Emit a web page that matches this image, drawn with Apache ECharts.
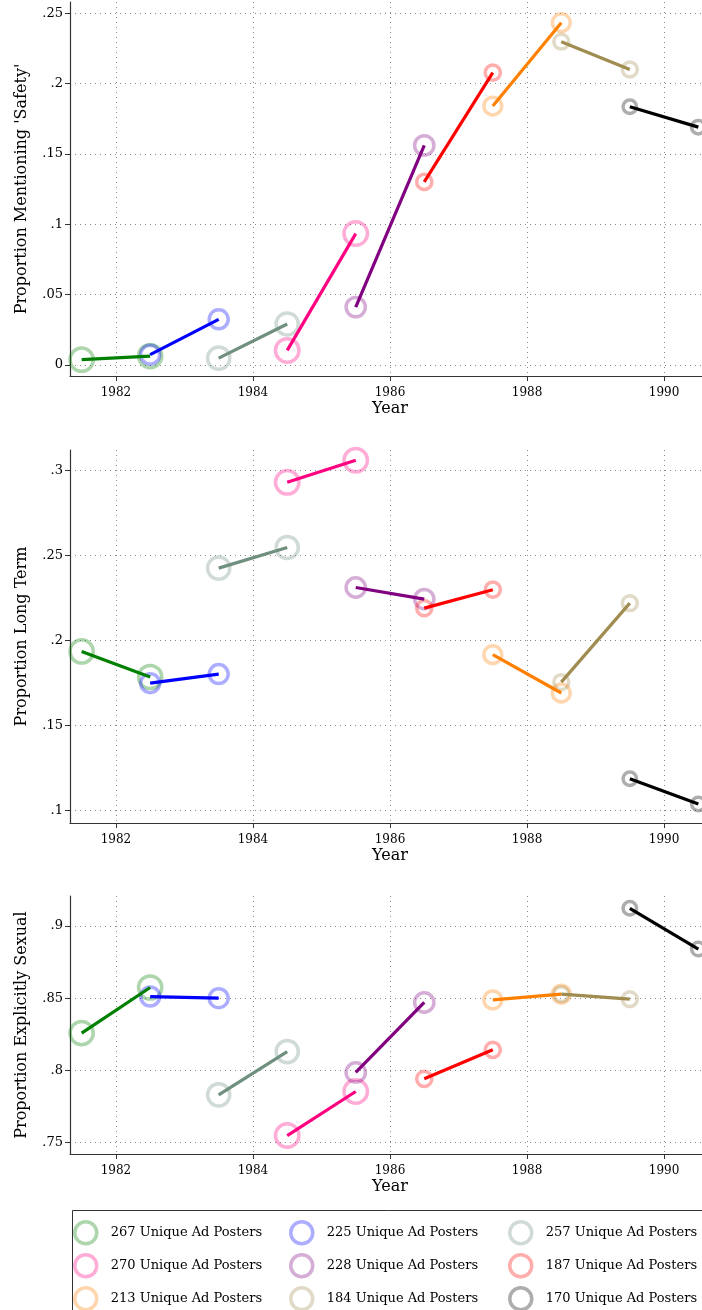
<!DOCTYPE html>
<html>
<head>
<meta charset="utf-8">
<script src="https://cdn.jsdelivr.net/npm/echarts@6/dist/echarts.min.js"></script>
<style>
  html, body { margin: 0; padding: 0; background: #fff; }
  #chart { width: 702px; height: 1310px; }
</style>
</head>
<body>
<div id="chart"></div>
<script>
// cohorts (number of unique ad posters) and the year each cohort starts in
const posters = [267, 225, 257, 270, 228, 187, 213, 184, 170]
const startYears = [1981.5, 1982.5, 1983.5, 1984.5, 1985.5, 1986.5, 1987.5, 1988.5, 1989.5]

// [first year, second year] proportions per cohort
const safety = [
  [0.0036, 0.0062], [0.0072, 0.0323], [0.0047, 0.029], [0.0102, 0.0933], [0.041, 0.156],
  [0.130, 0.2077], [0.184, 0.2433], [0.2298, 0.210], [0.1835, 0.169]
]
const longTerm = [
  [0.1936, 0.1786], [0.175, 0.1803], [0.2426, 0.2547], [0.293, 0.306], [0.2312, 0.2244],
  [0.2191, 0.2299], [0.1917, 0.1692], [0.1756, 0.222], [0.1188, 0.104]
]
const sexual = [
  [0.8258, 0.8574], [0.8511, 0.850], [0.783, 0.813], [0.7548, 0.7853], [0.7985, 0.847],
  [0.7941, 0.8142], [0.8488, 0.8528], [0.8528, 0.8493], [0.9123, 0.884]
]

const xTicks = [1982, 1984, 1986, 1988, 1990]
const panelTitles = ['Proportion Mentioning \'Safety\'', 'Proportion Long Term', 'Proportion Explicitly Sexual']
const panelTicks = [
  [0, 0.05, 0.1, 0.15, 0.2, 0.25],
  [0.1, 0.15, 0.2, 0.25, 0.3],
  [0.75, 0.8, 0.85, 0.9]
]
const panelData = [safety, longTerm, sexual]

// styles
const lineColors = [
  [0, 128, 0], [0, 0, 255], [111, 143, 127], [255, 0, 128], [128, 0, 128],
  [255, 0, 0], [255, 128, 0], [160, 140, 80], [0, 0, 0]
]
const panelBox = [
  { top: 2, height: 374, min: -0.008, max: 0.258 },
  { top: 450, height: 373, min: 0.0928, max: 0.312 },
  { top: 896, height: 258, min: 0.742, max: 0.9208 }
]
const legendCols = [73, 289, 508]
const font = 'DejaVu Serif'

const fmt = v => {
  if (v === 0) return '0'
  return String(+v.toFixed(2)).replace(/^0\./, '.')
}
const label = n => n + ' Unique Ad Posters'

const grids = []
const xAxes = []
const yAxes = []
const series = []

panelBox.forEach((b, p) => {
  grids.push({ left: 70, width: 640, top: b.top, height: b.height, outerBoundsMode: 'none' })
  xAxes.push({
    type: 'value',
    gridIndex: p,
    min: 1981.33,
    max: 1990.67,
    name: 'Year',
    nameLocation: 'middle',
    nameGap: 25,
    nameTextStyle: { fontFamily: font, fontSize: 16, color: '#000' },
    axisLine: { onZero: false, lineStyle: { color: '#333', width: 1.2 } },
    axisTick: { customValues: xTicks, length: 5, lineStyle: { color: '#333' } },
    axisLabel: {
      customValues: xTicks, margin: 11, fontFamily: font, fontSize: 12, color: '#000',
      formatter: v => String(v)
    },
    splitLine: { show: true, lineStyle: { type: [1, 4], color: '#888', width: 1 } }
  })
  yAxes.push({
    type: 'value',
    gridIndex: p,
    min: b.min,
    max: b.max,
    name: panelTitles[p],
    nameLocation: 'middle',
    nameGap: 40,
    nameTextStyle: { fontFamily: font, fontSize: 16, color: '#000' },
    axisLine: { show: true, onZero: false, lineStyle: { color: '#333', width: 1.2 } },
    axisTick: { show: true, customValues: panelTicks[p], length: 5, lineStyle: { color: '#333' } },
    axisLabel: { customValues: panelTicks[p], margin: 7, fontFamily: font, fontSize: 13, color: '#000', formatter: fmt },
    splitLine: { show: true, lineStyle: { type: [1, 4], color: '#888', width: 1 } }
  })

  const vals = panelData[p]
  posters.forEach((n, i) => {
    const c = lineColors[i]
    series.push({
      name: label(n),
      type: 'scatter',
      xAxisIndex: p,
      yAxisIndex: p,
      data: [[startYears[i], vals[i][0]], [startYears[i] + 1, vals[i][1]]],
      symbol: 'circle',
      symbolSize: n / 10 - 3.5,
      itemStyle: {
        color: 'transparent',
        borderColor: 'rgba(' + c.join(',') + ',0.4)',
        borderWidth: 3.5
      },
      emphasis: { disabled: true },
      z: 2
    })
  })
  posters.forEach((n, i) => {
    const c = lineColors[i]
    series.push({
      name: 'seg' + n,
      type: 'line',
      xAxisIndex: p,
      yAxisIndex: p,
      data: [[startYears[i], vals[i][0]], [startYears[i] + 1, vals[i][1]]],
      showSymbol: false,
      lineStyle: { color: 'rgb(' + c.join(',') + ')', width: 3.2 },
      emphasis: { disabled: true },
      z: 3
    })
  })
})

// one vertical legend per column, so the three columns line up
const legends = legendCols.map((left, col) => ({
  data: posters.filter((n, i) => i % 3 === col).map(label),
  left: left,
  top: 1220,
  height: 120,
  orient: 'vertical',
  padding: 0,
  itemWidth: 40,
  itemHeight: 22,
  itemGap: 7.5,
  selectedMode: false,
  itemStyle: { borderWidth: 3.5 },
  textStyle: { fontFamily: font, fontSize: 13, color: '#000' }
}))

const chart = echarts.init(document.getElementById('chart'))
chart.setOption({
  animation: false,
  backgroundColor: '#fff',
  grid: grids,
  xAxis: xAxes,
  yAxis: yAxes,
  legend: legends,
  graphic: [{
    type: 'rect',
    shape: { x: 72.5, y: 1210.5, width: 660, height: 120 },
    style: { fill: 'none', stroke: '#333', lineWidth: 1 },
    silent: true
  }],
  series: series
})
</script>
</body>
</html>
